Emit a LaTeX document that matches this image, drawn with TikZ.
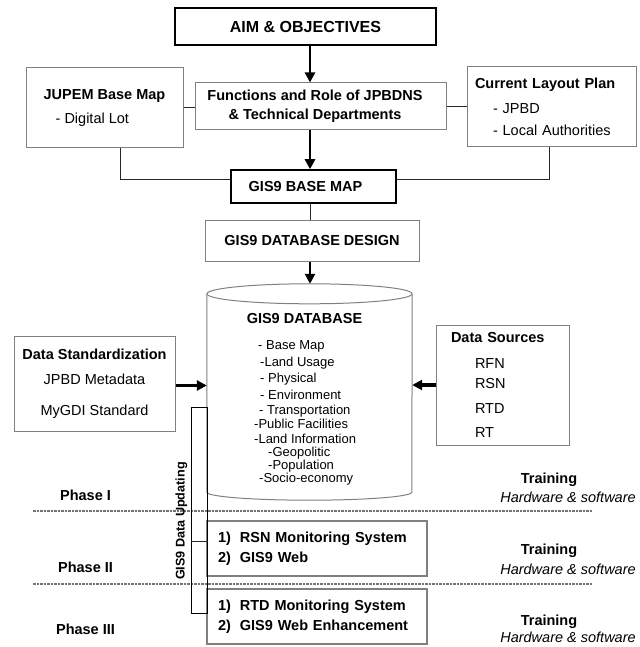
\documentclass[tikz,border=0pt]{standalone}
\usepackage{fontspec}
\setmainfont{Liberation Sans}
\usetikzlibrary{arrows.meta}
\usetikzlibrary{calc}

\tikzset{
  boxtext/.style={font=\fontsize{14.5}{17.5}\selectfont, inner sep=0pt},
  darkbox/.style={boxtext, draw=black, line width=1.5pt},
  greybox/.style={boxtext, draw=black!50, line width=1pt},
  phasebox/.style={greybox, line width=1.3pt, font=\bfseries\fontsize{14.5}{17.5}\selectfont,
    minimum width=220pt, minimum height=55pt, text width=198pt, align=left},
  flow/.style={-{Triangle[length=10pt,width=10pt]}, line width=2.8pt},
  link/.style={draw=black!85, line width=1pt},
  cylline/.style={draw=black!50, line width=1pt},
  separator/.style={draw=black!55, line width=1.3pt, dash pattern=on 2.5pt off 1pt},
  labeltext/.style={inner sep=0pt, text depth=0pt, text height=10.4pt},
  itemtext/.style={labeltext, text height=9.3pt, anchor=west, font=\fontsize{13}{15}\selectfont},
  phasetext/.style={labeltext, font=\bfseries\fontsize{14.5}{17.5}\selectfont},
  trainnote/.style={labeltext, font=\itshape\fontsize{14.5}{17.5}\selectfont},
}

\begin{document}
\begin{tikzpicture}[x=1pt, y=-1pt]
    \useasboundingbox (0,0) rectangle (639,647);
    \coordinate (axis) at (310,0);

    % Top: aim, roles and the two map sources
    \node[darkbox, minimum width=261pt, minimum height=37pt, font=\bfseries\fontsize{16}{19}\selectfont]
        (aim) at (305.5,26.5) {AIM \& OBJECTIVES};
    \node[greybox, minimum width=251pt, minimum height=47pt, align=center, font=\bfseries\fontsize{14.5}{17.5}\selectfont]
        (func) at (321,106.5) {Functions and Role of JPBDNS\hspace*{12pt}\\[1.5pt]\& Technical Departments\hspace*{12pt}};
    \node[greybox, minimum width=157pt, minimum height=80pt, align=left]
        (jupem) at (104.5,108) {\textbf{JUPEM Base Map}\\[7pt]\hspace*{12pt}- Digital Lot};
    \node[greybox, minimum width=169pt, minimum height=80pt, text width=153pt, align=left]
        (clp) at (551.5,107) {\textbf{Current Layout Plan}\\[7.5pt]\hspace*{18pt}- JPBD\\[4.5pt]\hspace*{18pt}- Local Authorities};

    % Base map and database design
    \node[darkbox, minimum width=165pt, minimum height=33pt, font=\bfseries\fontsize{14.5}{17.5}\selectfont]
        (base) at (313.5,186.5) {GIS9 BASE MAP\hspace*{16pt}};
    \node[greybox, minimum width=214pt, minimum height=41pt, font=\bfseries\fontsize{14.5}{17.5}\selectfont]
        (design) at (312,240.5) {GIS9 DATABASE DESIGN};

    \draw[flow] (aim.south -| axis) -- (func.north -| axis);
    \draw[flow] (func.south -| axis) -- (base.north -| axis);
    \draw[link] (jupem.east) -- (jupem.east -| func.west);
    \draw[link] (func.east) -- (func.east -| clp.west);
    \draw[link] ([xshift=15.5pt]jupem.south) |- ([yshift=7pt]base.west);
    \draw[link] ([xshift=-2.5pt]clp.south) |- ([yshift=7pt]base.east);
    \draw[link] (base.south -| axis) -- (design.north -| axis);

    % Database cylinder
    \node[minimum width=205pt, minimum height=216pt, inner sep=0pt] (db) at (309.5,392) {};
    \draw[cylline] ([yshift=-10pt]db.north) ellipse [x radius=102.5pt, y radius=10pt];
    \draw[cylline] ([yshift=-10pt]db.north west) -- ([yshift=8pt]db.south west)
        arc[start angle=180, end angle=360, x radius=102.5pt, y radius=8pt] -- ([yshift=-10pt]db.north east);
    \node[phasetext] (dbtitle) at (304.5,318) {GIS9 DATABASE};
    \foreach \x/\y/\t [count=\i] in {258/345/- Base Map, 260/362/-Land Usage, 260/378/- Physical,
        260/395/- Environment, 259/409.5/- Transportation, 254/424/-Public Facilities,
        254/439/-Land Information, 268/452/-Geopolitic, 268/465/-Population, 259/478/-Socio-economy}
        \node[itemtext] (item\i) at (\x,\y) {\t};
    \draw[flow] (design.south -| axis) -- (db.north -| axis);

    % Side inputs
    \node[greybox, minimum width=161pt, minimum height=95pt, align=center]
        (dstd) at (94.5,383.5) {\textbf{Data Standardization}\\[7.5pt]JPBD Metadata\\[13pt]MyGDI Standard};
    \node[greybox, minimum width=133pt, minimum height=120pt, text width=103pt, align=left]
        (dsrc) at (502.5,385) {\textbf{Data Sources}\\[8.5pt]\hspace*{24pt}RFN\\[2.5pt]\hspace*{24pt}RSN\\[7.5pt]\hspace*{24pt}RTD\\[6pt]\hspace*{24pt}RT};
    \draw[flow, line width=3.2pt] ([yshift=-2pt]dstd.east) -- ([yshift=-2pt]dstd.east -| db.west);
    \draw[flow, line width=3.2pt] (dsrc.west) -- (dsrc.west -| db.east);

    % Phases
    \foreach \y in {511,584}
        \draw[separator] (33,\y) -- (592,\y);
    \foreach \y/\t [count=\i] in {495/Phase I, 567/Phase II, 629.5/Phase III}
        \node[phasetext] (phase\i) at (85.5,\y) {\t};
    \node[phasebox] (ph2) at (317,548.5) {1)\hspace{9pt}RSN Monitoring System\\[2.5pt]2)\hspace{9pt}GIS9 Web};
    \node[phasebox] (ph3) at (317,616.5) {1)\hspace{9pt}RTD Monitoring System\\[3pt]2)\hspace{9pt}GIS9 Web Enhancement};
    \foreach \y/\z [count=\i] in {478/497.5, 549.5/569, 620.5/637.5} {
        \node[phasetext] (train\i) at (549,\y) {Training};
        \node[trainnote] (hw\i) at (568,\z) {Hardware \& software};
    }

    % Data updating bracket
    \node[draw=black, line width=1pt, minimum width=16pt, minimum height=206pt, inner sep=0pt] (bar) at (199,510) {};
    \draw[link] ([yshift=-31pt]bar.west) -- ([yshift=-31pt]bar.east);
    \node[labeltext, text height=9pt, rotate=90, font=\bfseries\fontsize{12.6}{15}\selectfont] (upd) at (180,521) {GIS9 Data Updating};
\end{tikzpicture}
\end{document}
